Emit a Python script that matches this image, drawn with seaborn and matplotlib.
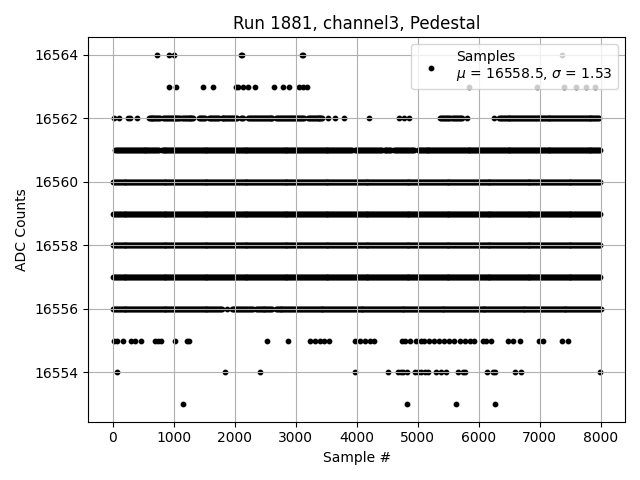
import numpy as np
import pandas as pd
import seaborn as sns
import matplotlib.pyplot as plt

# Pedestal samples (sample index vs ADC value).
# Sparse levels: sample positions of the individual dots.
hits_16564 = [723, 918, 1000, 2099, 2125, 3100, 3125, 7372]
hits_16563 = [918, 1039, 1473, 1636, 2018, 2060, 2142, 2223, 2327, 2643, 2790,
              2887, 3050, 3115, 3176, 5834, 6953, 7400, 7600, 7752, 7899]
hits_16562 = [21, 98, 250, 289, 396, 3523, 3648, 3795, 4203, 4690, 4782, 4864,
              5811, 6247]
hits_16556 = [1880]
hits_16555 = [21, 77, 168, 305, 359, 468, 685, 739, 794, 1028, 1219, 1245,
              2534, 2876, 3241, 3323, 3404, 3458, 3540, 3975, 4057, 4138, 4220,
              4290, 4743, 4798, 4880, 4968, 5050, 5103, 5179, 5260, 5342, 5424,
              5505, 5587, 5687, 5769, 5850, 5920, 6067, 6122, 6193, 6483, 6565,
              6684, 6981, 7058, 7372, 7465]
hits_16554 = [77, 1838, 2409, 3975, 4506, 4681, 4725, 4763, 4816, 4953, 5007,
              5061, 5116, 5170, 5306, 5387, 5459, 5660, 5741, 5779, 6137, 6230,
              6268, 6594, 6692, 7985]
hits_16553 = [1147, 4816, 5632, 6268]

# Dense levels: sample ranges where the dots merge into a solid band.
runs_16562 = [(587, 794), (820, 1109), (1130, 1337), (1419, 1528), (1582, 1745),
              (1783, 2044), (2099, 2142), (2218, 2623), (2680, 3143),
              (3197, 3442), (5361, 5524), (5567, 5730), (6328, 7990)]
runs_16561 = [(40, 760), (800, 3920), (3975, 4410), (4455, 4570), (4615, 4950),
              (5000, 7999)]
runs_16560 = [(0, 7999)]
runs_16559 = [(0, 7999)]
runs_16558 = [(0, 7999)]
runs_16557 = [(0, 7999)]
runs_16556 = [(0, 1800), (1960, 2305), (2343, 2620), (2670, 7999)]

hits = {16564: hits_16564, 16563: hits_16563, 16562: hits_16562,
        16556: hits_16556, 16555: hits_16555, 16554: hits_16554,
        16553: hits_16553}
runs = {16562: runs_16562, 16561: runs_16561, 16560: runs_16560,
        16559: runs_16559, 16558: runs_16558, 16557: runs_16557,
        16556: runs_16556}

xs, ys = [], []
for adc, pos in hits.items():
    xs += list(pos)
    ys += [adc] * len(pos)
for adc, rr in runs.items():
    for a, b in rr:
        seg = np.arange(a, b + 1, 16)
        xs += list(seg)
        ys += [adc] * len(seg)

df = pd.DataFrame({'sample': xs, 'adc': ys})

fig, ax = plt.subplots(figsize=(6.4, 4.8), dpi=100)
sns.scatterplot(data=df, x='sample', y='adc', color='black', marker='o',
                s=10, linewidth=1.0, edgecolor='black', ax=ax,
                label='Samples\n$\\mu$ = 16558.5, $\\sigma$ = 1.53')

ax.set_title('Run 1881, channel3, Pedestal')
ax.set_xlabel('Sample #')
ax.set_ylabel('ADC Counts')
ax.set_xticks(range(0, 8001, 1000))
ax.set_yticks(range(16554, 16565, 2))
ax.ticklabel_format(useOffset=False, style='plain')
ax.grid(True)
ax.legend(loc='upper right')

plt.tight_layout()
plt.savefig('out.png')
